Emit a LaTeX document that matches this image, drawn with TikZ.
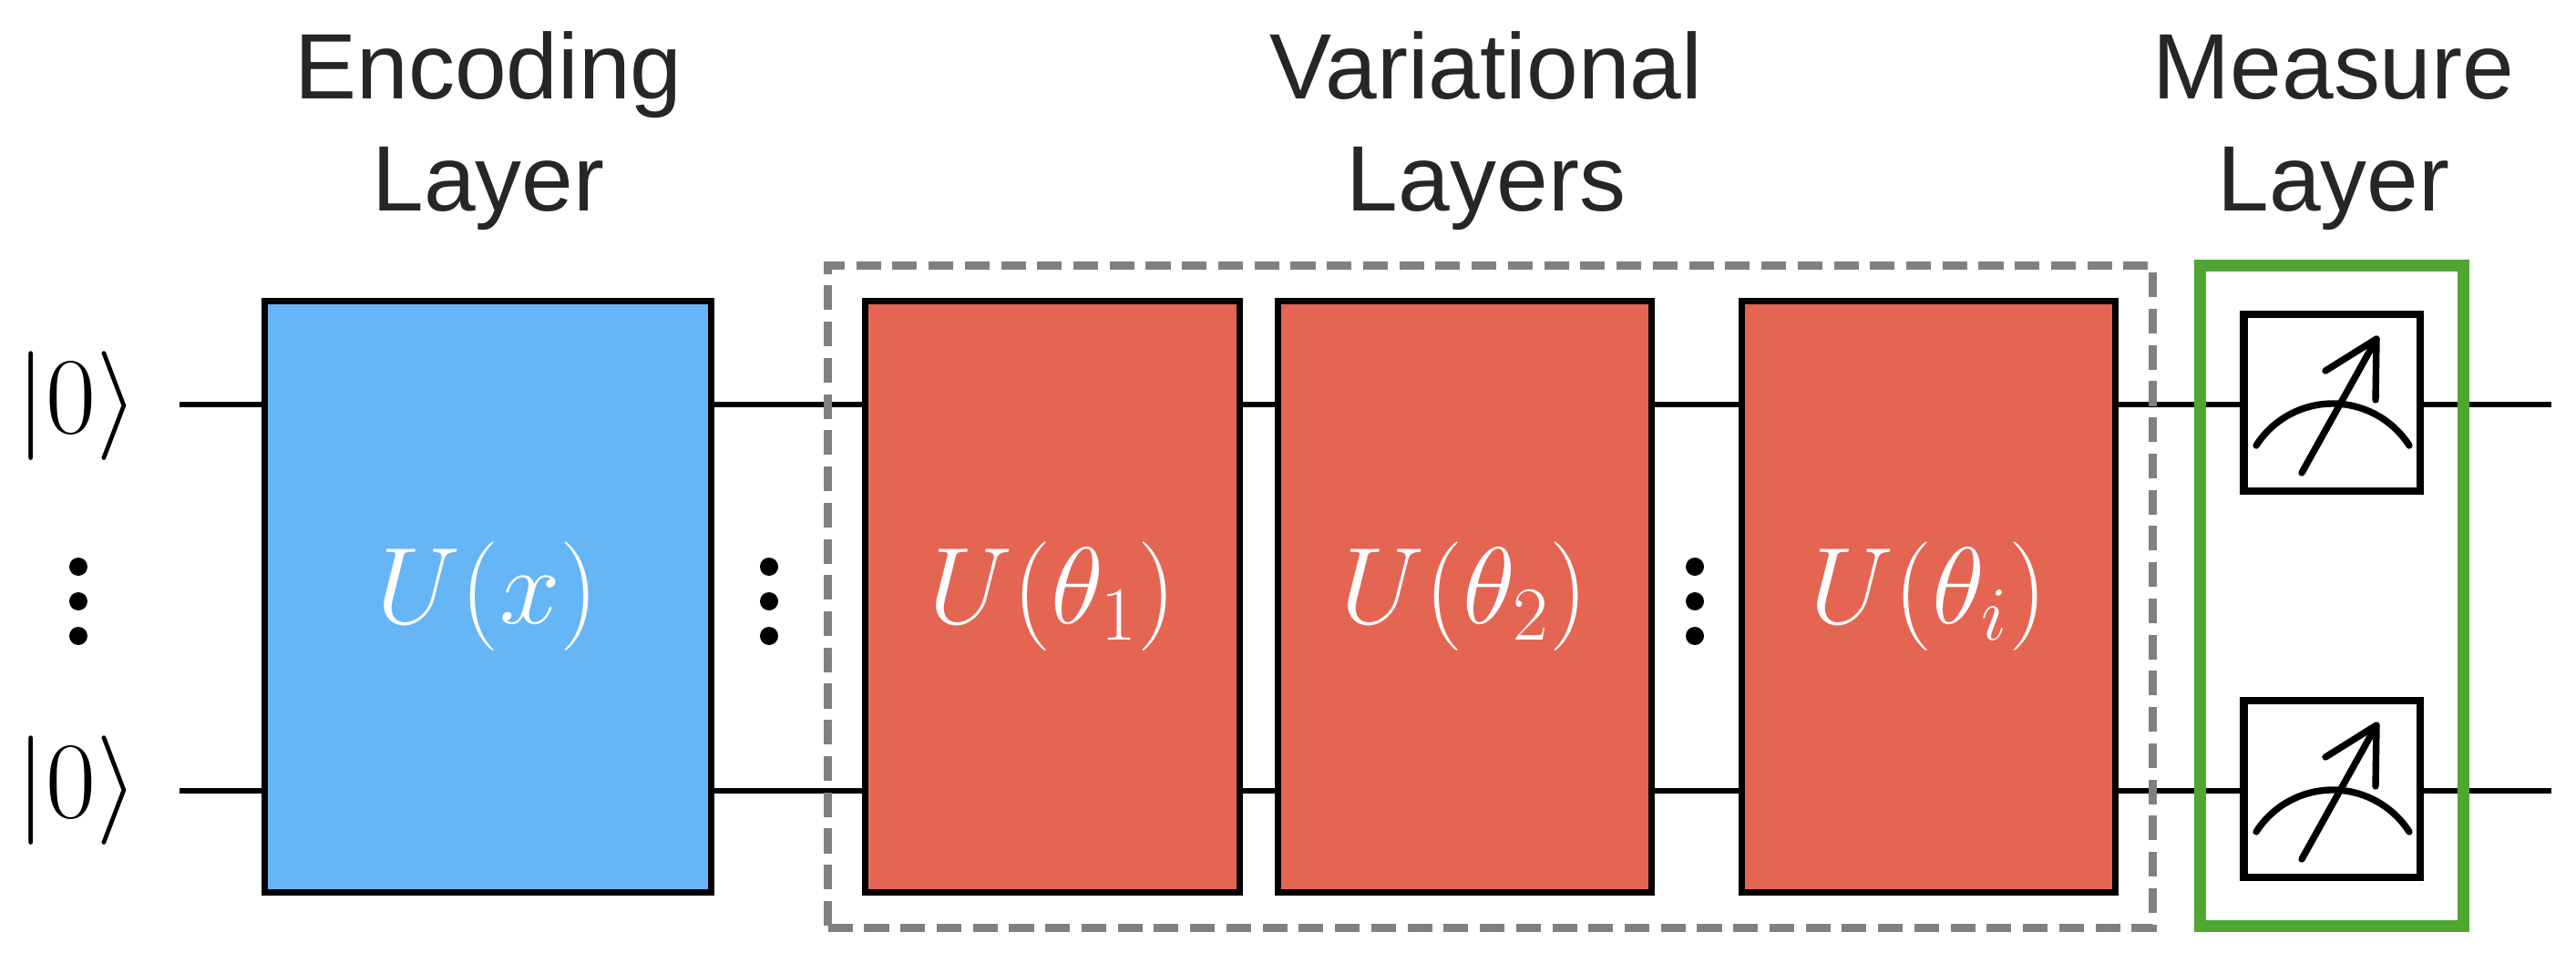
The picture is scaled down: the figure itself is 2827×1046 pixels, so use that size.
\documentclass[tikz,border=0pt]{standalone}
\usepackage{fix-cm}
\usepackage{fontspec}
\setmainfont{Liberation Sans}
\usetikzlibrary{positioning, fit, backgrounds}
\definecolor{encblue}{RGB}{102,181,247}
\definecolor{varred}{RGB}{229,101,83}
\definecolor{measgreen}{RGB}{80,166,50}
\definecolor{titlegray}{RGB}{38,38,38}
\definecolor{boxgray}{RGB}{128,128,128}

\begin{document}
\begin{tikzpicture}[
                x=0.01cm, y=-0.01cm,
                gate/.style={draw, line width=2pt, minimum width=4.1cm, minimum height=6.49cm, inner sep=0pt,
                    text=white, font=\fontsize{34}{40}\selectfont},
                encgate/.style={gate, fill=encblue, minimum width=4.9cm},
                vargate/.style={gate, fill=varred},
                meter/.style={draw, line width=2.3pt, fill=white, minimum width=1.93cm, minimum height=1.93cm, inner sep=0pt},
                meterline/.style={line width=2.1pt, line cap=round, line join=round},
                wire/.style={line width=1.7pt},
                ket/.style={inner sep=0pt, font=\fontsize{34}{40}\selectfont},
                title/.style={align=center, inner sep=0pt, text=titlegray, font=\fontsize{29}{35}\selectfont},
                varbox/.style={draw=boxgray, line width=2.56pt, dash pattern=on 7.7pt off 3.6pt, inner xsep=0.375cm, inner ysep=0.35cm},
                measbox/.style={draw=measgreen, line width=3.7pt, inner xsep=0.435cm, inner ysep=0.5cm},
            ]
            \useasboundingbox (0,0) rectangle (2827,1046);

            % === Inputs ===
            \node[ket] (k1) at (85,446) {$|0\rangle$};
            \node[ket] (k2) at (85,868) {$|0\rangle$};
            \coordinate (q1in) at (197,444);
            \coordinate (q2in) at (197,868);
            \coordinate (q1out) at (2800,444);
            \coordinate (q2out) at (2800,868);

            % === Gates ===
            \node[encgate] (enc) at (535.5,655) {$U(x)$};
            \node[vargate, right=1.62cm of enc] (V1) {$U(\theta_1)$};
            \node[vargate, right=0.35cm of V1] (V2) {$U(\theta_2)$};
            \node[vargate, right=0.92cm of V2] (V3) {$U(\theta_i)$};
            \node[varbox, fit=(V1)(V3)] (vbox) {};

            % === Measurement ===
            \node[meter] (M1) at (2559,442) {};
            \node[meter] (M2) at (2559,866) {};
            \node[measbox, fit=(M1)(M2)] (mbox) {};
            \foreach \m in {M1, M2} {
                \draw[meterline] ([shift={(-83,47)}]\m.center) arc[start angle=212.6, end angle=327.4, radius=99.7];
                \draw[meterline] ([shift={(-33,77)}]\m.center) -- ([shift={(49,-70)}]\m.center);
                \draw[meterline] ([shift={(-7,-35)}]\m.center) -- ([shift={(49,-70)}]\m.center) -- ([shift={(48,-3)}]\m.center);
            }

            % === Wires ===
            \begin{scope}[on background layer]
                \draw[wire] (q1in) -- (q1out);
                \draw[wire] (q2in) -- (q2out);
            \end{scope}

            % === Dots ===
            \foreach \x in {86, 844, 1860} {
                \foreach \y in {622, 660, 698} {
                    \fill (\x,\y) circle[radius=10];
                }
            }

            % === Titles ===
            \node[title, anchor=base] (tEnc) at (536,232) {Encoding\\Layer};
            \node[title, anchor=base] (tVar) at (1631,232) {Variational\\Layers};
            \node[title, anchor=base] (tMeas) at (2561,232) {Measure\\Layer};
            \end{tikzpicture}
\end{document}
